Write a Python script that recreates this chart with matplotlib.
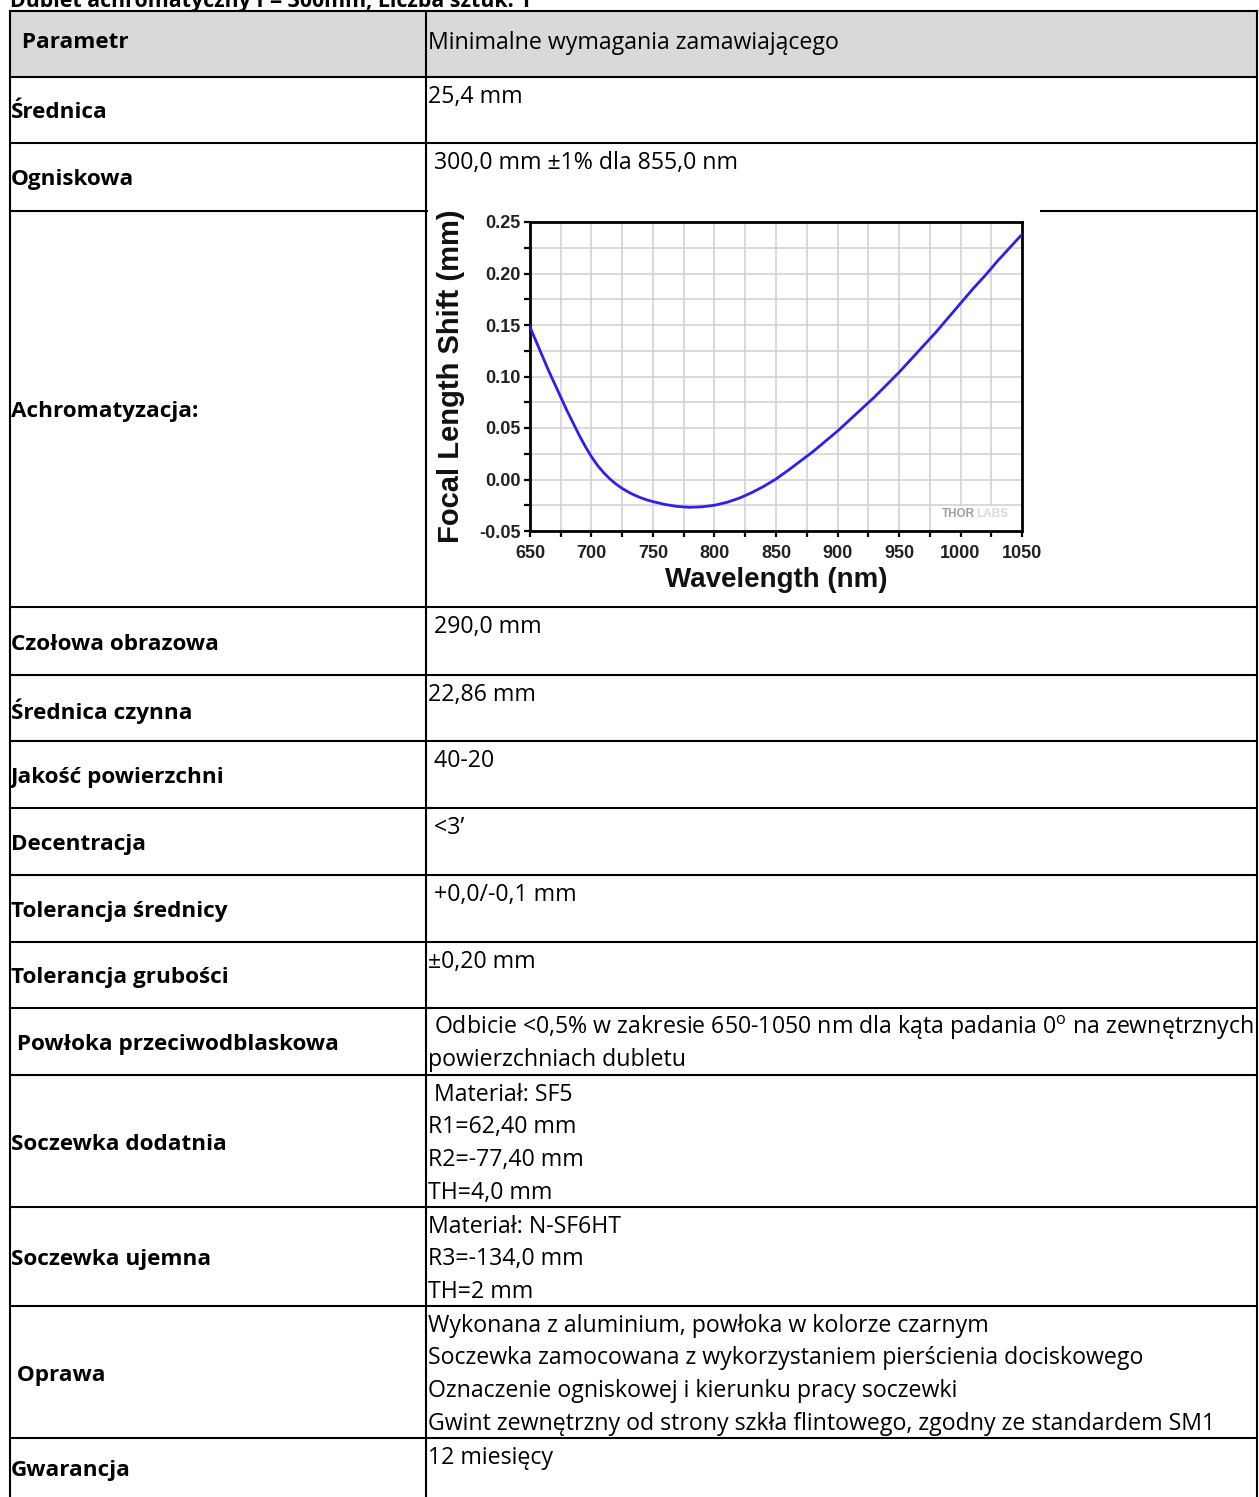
import numpy as np
import matplotlib.pyplot as plt
from matplotlib.patches import Rectangle

plt.rcParams['mathtext.fontset'] = 'custom'
plt.rcParams['mathtext.rm'] = 'Open Sans'

W, H = 1259, 1497

# dane tabeli
tytul = 'Dublet achromatyczny f = 300mm, Liczba sztuk: 1'
naglowek = [' Parametr', 'Minimalne wymagania zamawiającego']
parametry = ['Średnica', 'Ogniskowa', 'Achromatyzacja:', 'Czołowa obrazowa',
             'Średnica czynna', 'Jakość powierzchni', 'Decentracja',
             'Tolerancja średnicy', 'Tolerancja grubości',
             ' Powłoka przeciwodblaskowa', 'Soczewka dodatnia',
             'Soczewka ujemna', ' Oprawa', 'Gwarancja']
wymagania = [
    ['25,4 mm'],
    [' 300,0 mm ±1% dla 855,0 nm'],
    [],
    [' 290,0 mm'],
    ['22,86 mm'],
    [' 40-20'],
    [' <3’'],
    [' +0,0/-0,1 mm'],
    ['±0,20 mm'],
    [' Odbicie <0,5% w zakresie 650-1050 nm dla kąta padania 0$^{\\mathrm{o}}$ na zewnętrznych',
     'powierzchniach dubletu'],
    [' Materiał: SF5', 'R1=62,40 mm', 'R2=-77,40 mm', 'TH=4,0 mm'],
    ['Materiał: N-SF6HT', 'R3=-134,0 mm', 'TH=2 mm'],
    ['Wykonana z aluminium, powłoka w kolorze czarnym',
     'Soczewka zamocowana z wykorzystaniem pierścienia dociskowego',
     'Oznaczenie ogniskowej i kierunku pracy soczewki',
     'Gwint zewnętrzny od strony szkła flintowego, zgodny ze standardem SM1'],
    ['12 miesięcy'],
]

# dane wykresu
dl_fali = [650, 655, 660, 665, 670, 675, 680, 685, 690, 695, 700, 705, 710, 715,
           720, 725, 730, 735, 740, 745, 750, 760, 770, 780, 790, 800, 810, 820,
           830, 840, 850, 860, 870, 880, 890, 900, 910, 920, 930, 940, 950, 960,
           970, 980, 990, 1000, 1010, 1020, 1030, 1040, 1050]
przesuniecie = [0.148, 0.134, 0.120, 0.106, 0.093, 0.080, 0.067, 0.055, 0.043,
                0.032, 0.022, 0.0135, 0.0065, 0.0005, -0.0045, -0.0087, -0.0122,
                -0.0152, -0.0177, -0.0198, -0.0215, -0.0243, -0.0262, -0.027,
                -0.0265, -0.025, -0.0222, -0.0182, -0.0129, -0.0067, 0.0005,
                0.009, 0.018, 0.027, 0.037, 0.047, 0.058, 0.069, 0.080, 0.092,
                0.104, 0.117, 0.130, 0.143, 0.157, 0.171, 0.185, 0.198, 0.212,
                0.225, 0.238]

# uklad tabeli w pikselach
granice = [11, 77, 143, 211, 607, 675, 741, 808, 875, 942, 1008, 1075, 1207, 1306, 1438, 1497]
x_lewa, x_srodek, x_prawa = 10, 426, 1257
lw_tab = 1.5

fig = plt.figure(figsize=(W / 100, H / 100), dpi=100)
ax = fig.add_axes([0, 0, 1, 1])
ax.set_xlim(0, W)
ax.set_ylim(H, 0)
ax.axis('off')

f_tab = 'Open Sans'
fs = 16.7
fs_b = 16.2

ax.text(x_lewa, 7, tytul, fontsize=15.4, fontweight='bold', family=f_tab, va='baseline')

# naglowek
ax.add_patch(Rectangle((x_lewa, granice[0]), x_prawa - x_lewa, granice[1] - granice[0],
                       facecolor='#d9d9d9', edgecolor='none', zorder=0))
ax.text(x_lewa + 6, 43, naglowek[0], fontsize=fs_b, fontweight='bold', family=f_tab, va='center')
ax.text(x_srodek + 2, 43, naglowek[1], fontsize=fs, family=f_tab, va='center')

for i in range(len(parametry)):
    gora, dol = granice[i + 1], granice[i + 2]
    ax.text(x_lewa + 1, (gora + dol) / 2 + 3, parametry[i], fontsize=fs_b,
            fontweight='bold', family=f_tab, va='center')
    for j, linia in enumerate(wymagania[i]):
        ax.text(x_srodek + 2, gora + 20 + j * 32.5, linia, fontsize=fs,
                family=f_tab, va='center')

# linie tabeli
for y in granice[:-1]:
    ax.plot([x_lewa, x_prawa], [y, y], color='black', lw=lw_tab, zorder=2)
for x in [x_lewa, x_srodek, x_prawa]:
    ax.plot([x, x], [granice[0], H], color='black', lw=lw_tab, zorder=2)

# obrazek wykresu zaslania linie
ax.add_patch(Rectangle((428, 204), 612, 401, facecolor='white', edgecolor='none', zorder=3))

# wykres
ax2 = fig.add_axes([530 / W, 1 - 531 / H, 492 / W, 309 / H])
ax2.plot(dl_fali, przesuniecie, color='#2b20f0', lw=2.0, zorder=4)
ax2.set_xlim(650, 1050)
ax2.set_ylim(-0.05, 0.25)
ax2.set_xticks(np.arange(650, 1051, 50))
ax2.set_xticks(np.arange(675, 1051, 50), minor=True)
ax2.set_yticks(np.arange(-0.05, 0.251, 0.05))
ax2.set_yticks(np.arange(-0.025, 0.25, 0.05), minor=True)
ax2.set_yticklabels(['%.2f' % v for v in np.arange(-0.05, 0.251, 0.05)])
ax2.grid(True, which='both', color='#d0d0d0', lw=1.1)
ax2.set_axisbelow(True)
for s in ax2.spines.values():
    s.set_linewidth(2.0)
ax2.tick_params(which='both', direction='out', length=4, width=1.6)
ax2.tick_params(axis='x', pad=6)
ax2.tick_params(axis='y', pad=3)
for lab in ax2.get_xticklabels() + ax2.get_yticklabels():
    lab.set_family('Liberation Sans')
    lab.set_fontweight('bold')
    lab.set_fontsize(13)
    lab.set_color('#222222')
ax2.set_xlabel('Wavelength (nm)', family='Liberation Sans', fontweight='bold',
               fontsize=20, labelpad=4, color='#111111')
ax2.set_ylabel('Focal Length Shift (mm)', family='Liberation Sans', fontweight='bold',
               fontsize=21, labelpad=10, color='#111111')

# znak wodny
ax2.add_patch(Rectangle((984, -0.05), 66, 0.0245, facecolor='white', edgecolor='none', zorder=2))
ax2.text(985, -0.0335, 'THOR', family='Liberation Sans', fontweight='bold', fontsize=8.5,
         color='#a0a0a0', va='center', zorder=3)
ax2.text(1012.5, -0.0335, 'LABS', family='Liberation Sans', fontweight='bold', fontsize=8.5,
         color='#dadada', va='center', zorder=3)

plt.savefig('out.png', dpi=100)
